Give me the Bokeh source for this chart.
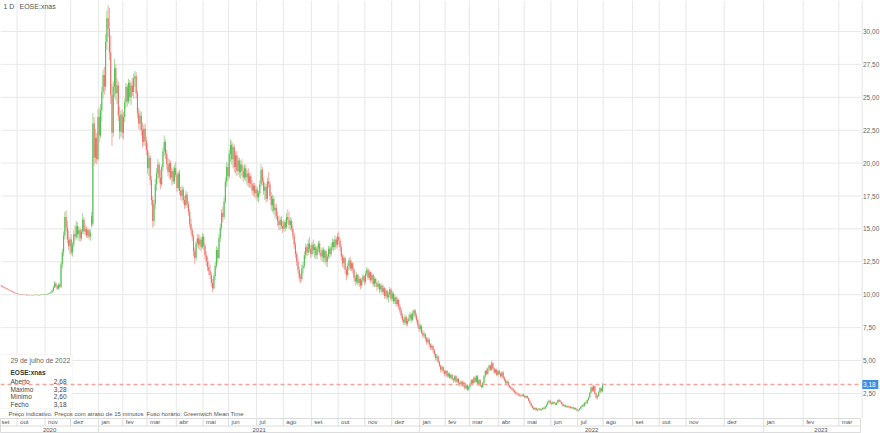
from bokeh.plotting import figure
from bokeh.layouts import column, row
from bokeh.models import Range1d, ColumnDataSource, Span, Label, BoxAnnotation
from bokeh.embed import file_html
from bokeh.resources import INLINE
from bokeh.core.properties import value

# ---------------- data (daily candles, EOSE:xnas, 14 Sep 2020 .. 29 Jul 2022) ----------------
opens = [
 10.70,10.64,10.60,10.55,10.50,10.45,10.40,10.35,10.30,10.25,
 10.21,10.16,10.12,10.09,10.06,10.04,10.02,10.00,9.98,9.99,
 10.00,9.97,9.98,9.96,9.97,9.98,9.97,9.99,10.00,9.98,
 9.97,9.98,10.00,10.01,9.99,10.00,10.02,10.05,10.08,10.12,
 10.18,10.30,10.55,10.85,10.65,10.45,10.75,10.60,12.30,13.20,
 14.5,15.9,15.1,14.2,13.7,14.2,13.2,13.8,14.6,14.4,
 15.2,14.6,14.9,14.3,14.8,15.7,14.8,15.0,14.5,14.9,
 14.4,16.0,15.4,23.0,20.4,21.9,20.3,23.5,22.1,24.0,
 25.4,26.7,25.8,29.2,31.0,30.2,28.4,25.2,22.3,25.8,
 27.2,25.3,25.9,23.6,22.4,23.7,22.3,23.5,24.6,25.8,
 24.7,26.1,25.0,25.9,25.4,26.4,26.6,25.3,23.8,23.0,
 23.6,22.5,21.6,22.6,21.7,21.0,19.6,20.4,18.7,17.2,
 15.6,16.9,18.4,19.2,19.9,18.9,18.4,19.7,20.9,21.6,
 20.7,19.9,19.3,20.0,18.9,19.4,18.6,19.6,19.1,18.1,
 19.2,17.9,17.5,18.0,17.2,16.8,17.6,16.9,16.3,15.4,
 14.9,14.4,13.3,12.8,13.9,14.3,13.8,14.2,13.6,14.4,
 13.7,13.0,12.5,12.1,11.8,11.5,10.9,10.5,11.4,12.2,
 13.4,12.8,14.3,15.1,16.2,15.9,17.1,18.6,19.7,19.0,
 20.7,21.4,20.3,21.2,19.7,20.6,19.4,20.2,19.3,19.9,
 19.4,18.9,19.6,18.9,19.2,18.5,19.0,18.4,17.9,18.3,
 17.7,18.0,17.4,17.7,18.4,19.5,18.6,17.9,18.2,17.3,
 18.6,18.4,17.5,16.8,17.3,16.4,16.6,16.0,15.6,15.3,
 15.7,15.2,15.0,15.5,15.1,15.9,15.7,15.3,15.6,15.0,
 14.5,13.8,13.1,12.5,11.9,11.3,11.2,12.0,12.2,13.0,
 13.6,13.2,13.9,13.5,13.1,13.8,13.4,13.6,13.0,13.5,
 13.9,13.2,12.9,13.4,12.8,13.3,12.5,12.9,13.5,13.1,
 13.6,14.0,13.6,14.2,13.8,14.4,14.1,13.6,12.9,12.4,
 12.8,11.9,11.5,12.2,12.6,12.0,12.4,11.9,11.3,11.0,
 11.5,10.9,11.2,10.7,11.1,11.4,11.0,11.6,11.9,11.3,
 11.7,11.1,11.5,10.8,11.2,10.9,10.6,10.8,10.4,10.7,
 10.2,10.5,9.9,10.3,9.8,10.0,10.4,9.7,10.1,9.5,
 9.8,9.3,9.6,9.1,8.8,8.4,8.1,7.9,8.3,7.8,
 8.0,8.2,8.5,8.1,8.6,8.8,8.4,8.1,7.7,7.4,
 7.6,7.1,6.9,7.0,6.7,6.4,6.6,6.2,6.0,6.1,
 5.8,5.5,5.2,5.3,4.9,4.6,4.3,4.5,4.2,4.0,
 4.2,3.8,4.0,3.7,3.9,3.6,3.5,3.8,3.4,3.6,
 3.3,3.2,3.4,3.1,3.3,2.9,3.1,2.8,3.0,3.2,
 3.5,3.3,3.7,3.4,3.8,3.2,3.5,3.1,3.0,3.3,
 3.8,4.2,4.0,4.4,4.6,4.3,4.8,4.4,4.1,4.3,
 3.9,4.2,4.0,3.8,4.1,3.7,3.5,3.3,3.4,3.1,
 3.0,2.9,2.8,2.7,2.6,2.5,2.45,2.4,2.35,2.3,
 2.4,2.3,2.2,2.3,2.15,1.95,1.75,1.55,1.4,1.3,
 1.4,1.25,1.3,1.35,1.25,1.3,1.4,1.35,1.5,1.65,
 1.85,1.95,1.75,1.7,1.85,1.75,1.65,1.8,2.0,1.9,
 1.85,1.7,1.55,1.6,1.5,1.55,1.45,1.5,1.4,1.45,
 1.35,1.4,1.3,1.2,1.25,1.35,1.5,1.6,1.55,1.8,
 1.75,2.0,2.2,2.55,2.95,2.7,3.05,2.5,2.2,2.3,
 2.6,2.9,2.68,
]
highs = [
 10.75,10.68,10.63,10.58,10.52,10.48,10.42,10.38,10.33,10.28,
 10.23,10.18,10.14,10.11,10.08,10.06,10.04,10.02,10.01,10.02,
 10.01,10.00,9.99,9.99,10.00,9.99,10.01,10.02,10.01,9.99,
 10.00,10.02,10.03,10.02,10.02,10.04,10.08,10.12,10.16,10.25,
 10.40,10.70,11.05,10.95,10.75,10.90,10.85,12.50,13.50,14.80,
 16.3,16.4,15.6,14.9,14.4,14.6,14.0,14.9,15.3,15.6,
 15.5,15.2,15.1,15.0,16.2,15.9,15.3,15.2,15.1,15.0,
 15.0,16.3,23.8,23.5,22.6,22.3,24.1,24.2,24.5,25.8,
 27.1,27.3,29.8,31.6,32.0,31.8,29.7,26.0,26.2,27.9,
 27.5,26.4,26.2,24.3,24.0,24.1,23.9,24.9,26.1,26.0,
 26.4,26.3,26.2,26.5,26.8,27.0,26.9,25.5,24.2,24.0,
 23.9,23.1,22.9,23.0,22.0,21.5,20.8,20.6,19.0,17.5,
 17.2,18.8,19.6,20.3,20.1,19.5,19.9,21.2,22.1,21.8,
 21.0,20.4,20.3,20.2,19.6,19.7,19.9,20.1,19.3,19.4,
 19.5,18.2,18.3,18.2,17.5,17.9,17.8,17.1,16.5,15.8,
 15.1,14.6,13.6,14.1,14.6,14.6,14.5,14.4,14.7,14.6,
 13.9,13.3,12.9,12.6,12.3,11.7,11.2,11.6,12.5,13.7,
 13.6,14.6,15.4,16.5,16.7,17.4,18.9,20.1,20.0,21.0,
 21.8,21.7,21.5,21.4,20.9,20.9,20.5,20.4,20.2,20.3,
 19.8,19.9,19.9,19.5,19.6,19.3,19.2,18.7,18.5,18.5,
 18.3,18.2,17.9,18.7,19.9,19.7,18.9,18.5,18.4,18.9,
 19.3,18.6,17.8,17.6,17.5,16.9,16.9,16.3,16.0,15.9,
 16.0,15.6,15.7,15.7,16.2,16.5,16.3,15.9,15.8,15.3,
 14.7,14.0,13.3,12.8,12.1,11.6,12.3,12.5,13.3,13.9,
 13.8,14.2,14.4,13.8,14.0,14.2,13.9,13.8,13.7,14.1,
 14.1,13.5,13.6,13.6,13.5,13.4,13.1,13.7,13.7,13.9,
 14.3,14.2,14.5,14.4,14.7,14.8,14.3,13.8,13.1,13.0,
 12.9,12.1,12.4,12.8,12.9,12.6,12.5,12.0,11.5,11.7,
 11.6,11.4,11.3,11.3,11.6,11.5,11.8,12.1,12.0,11.9,
 11.8,11.7,11.6,11.4,11.3,11.0,11.1,10.9,10.9,10.8,
 10.7,10.6,10.5,10.4,10.2,10.6,10.5,10.3,10.2,10.0,
 9.9,9.8,9.7,9.3,9.0,8.6,8.3,8.5,8.4,8.2,
 8.5,8.7,8.6,8.8,8.9,8.9,8.6,8.2,7.9,7.8,
 7.7,7.3,7.2,7.1,6.8,6.8,6.7,6.3,6.3,6.2,
 5.9,5.6,5.5,5.4,5.0,4.7,4.6,4.6,4.3,4.3,
 4.3,4.1,4.1,4.0,4.0,3.7,3.9,3.9,3.7,3.7,
 3.4,3.5,3.5,3.4,3.4,3.2,3.2,3.1,3.3,3.6,
 3.6,3.8,3.8,3.9,3.9,3.6,3.6,3.2,3.4,3.9,
 4.3,4.4,4.5,4.7,4.7,5.0,4.9,4.5,4.4,4.4,
 4.3,4.3,4.1,4.2,4.2,3.8,3.6,3.5,3.5,3.2,
 3.1,3.0,2.9,2.8,2.7,2.6,2.55,2.5,2.45,2.45,
 2.5,2.4,2.35,2.35,2.2,2.0,1.8,1.6,1.5,1.45,
 1.45,1.35,1.4,1.4,1.35,1.45,1.5,1.55,1.7,1.9,
 2.05,2.0,1.85,1.9,1.9,1.8,1.85,2.05,2.1,2.0,
 1.9,1.75,1.65,1.65,1.6,1.6,1.55,1.55,1.5,1.5,
 1.45,1.45,1.35,1.3,1.4,1.55,1.65,1.75,1.85,1.95,
 2.05,2.25,2.6,3.05,3.1,3.15,3.1,2.55,2.4,2.7,
 3.0,2.95,3.28,
]
lows = [
 10.60,10.55,10.52,10.46,10.42,10.38,10.32,10.28,10.22,10.18,
 10.13,10.10,10.07,10.04,10.02,10.00,9.98,9.96,9.96,9.97,
 9.95,9.96,9.94,9.95,9.96,9.95,9.96,9.98,9.96,9.95,
 9.95,9.96,9.98,9.97,9.97,9.99,10.00,10.03,10.06,10.10,
 10.15,10.25,10.50,10.55,10.35,10.40,10.50,10.50,12.00,12.90,
 14.2,14.8,13.9,13.4,13.1,13.0,12.9,13.6,14.1,14.2,
 14.3,14.1,14.0,14.1,14.6,14.6,14.5,14.3,14.3,14.2,
 14.1,15.1,15.2,19.8,20.0,19.9,20.1,21.6,21.9,23.2,
 24.9,25.2,25.5,28.6,29.6,27.8,24.5,21.3,22.0,25.0,
 24.8,24.5,23.2,21.8,22.0,21.9,21.8,23.1,24.2,24.3,
 24.5,24.6,24.4,25.1,24.9,25.8,24.9,23.4,22.6,22.5,
 22.1,21.2,21.3,21.3,20.6,19.2,19.0,18.3,16.8,15.1,
 15.2,16.5,17.9,18.8,18.5,18.0,18.2,19.4,20.5,20.3,
 19.5,19.0,18.8,18.7,18.3,18.4,18.4,18.9,17.8,17.9,
 17.6,17.2,17.1,16.9,16.5,16.6,16.6,16.0,15.1,14.6,
 14.1,12.9,12.3,12.6,13.6,13.5,13.4,13.3,13.5,13.4,
 12.7,12.2,11.8,11.5,11.2,10.6,10.2,10.4,11.1,12.0,
 12.4,12.7,14.0,14.9,15.5,15.7,16.9,18.2,18.6,18.8,
 20.1,19.9,19.6,19.3,19.2,19.0,19.1,18.9,18.8,19.0,
 18.6,18.7,18.6,18.3,18.2,18.1,18.1,17.6,17.5,17.4,
 17.3,17.1,17.0,17.5,18.2,18.3,17.6,17.2,17.0,17.1,
 18.1,17.2,16.4,16.3,16.1,15.8,15.7,15.2,14.9,14.9,
 15.0,14.7,14.8,14.8,15.0,15.4,15.0,14.9,14.8,14.2,
 13.5,12.8,12.2,11.6,11.0,10.9,11.0,11.6,12.0,12.7,
 12.9,13.0,13.2,12.8,12.9,13.1,12.8,12.7,12.7,13.2,
 13.0,12.6,12.5,12.5,12.4,12.2,12.1,12.7,12.8,12.9,
 13.4,13.3,13.4,13.5,13.6,13.8,13.3,12.6,12.1,12.0,
 11.6,11.1,11.3,11.9,11.8,11.8,11.6,11.0,10.7,10.8,
 10.7,10.6,10.4,10.5,10.9,10.7,10.8,11.4,11.1,11.1,
 10.9,10.9,10.6,10.6,10.6,10.3,10.4,10.1,10.2,10.0,
 10.0,9.7,9.7,9.6,9.4,9.8,9.5,9.5,9.3,9.3,
 9.1,9.1,8.9,8.6,8.2,7.9,7.7,7.7,7.6,7.6,
 7.9,8.0,7.9,8.0,8.3,8.2,7.9,7.5,7.2,7.2,
 7.0,6.7,6.7,6.5,6.2,6.3,6.0,5.8,5.8,5.6,
 5.3,5.0,5.0,4.8,4.5,4.1,4.1,4.0,3.8,3.9,
 3.7,3.7,3.6,3.6,3.5,3.3,3.4,3.3,3.3,3.2,
 3.0,3.1,3.0,3.0,2.8,2.8,2.7,2.7,2.9,3.1,
 3.2,3.2,3.3,3.3,3.1,3.1,3.0,2.9,2.9,3.2,
 3.7,3.9,3.9,4.2,4.2,4.2,4.3,4.0,4.0,3.8,
 3.8,3.9,3.7,3.7,3.6,3.4,3.2,3.2,3.0,2.9,
 2.8,2.7,2.6,2.5,2.4,2.35,2.3,2.25,2.2,2.25,
 2.25,2.15,2.1,2.1,1.9,1.7,1.5,1.35,1.25,1.2,
 1.2,1.15,1.2,1.2,1.15,1.25,1.3,1.3,1.45,1.6,
 1.8,1.7,1.6,1.65,1.7,1.6,1.6,1.75,1.85,1.8,
 1.65,1.5,1.45,1.45,1.4,1.4,1.35,1.35,1.3,1.3,
 1.25,1.25,1.15,1.1,1.2,1.3,1.45,1.5,1.5,1.7,
 1.7,1.95,2.15,2.5,2.6,2.65,2.4,2.1,2.05,2.25,
 2.55,2.55,2.60,
]
closes = [
 10.65,10.60,10.56,10.50,10.46,10.41,10.36,10.31,10.26,10.21,
 10.16,10.12,10.09,10.06,10.04,10.02,10.00,9.98,9.99,10.00,
 9.97,9.98,9.96,9.97,9.98,9.97,9.99,10.00,9.98,9.97,
 9.98,10.00,10.01,9.99,10.00,10.02,10.05,10.08,10.12,10.18,
 10.30,10.55,10.85,10.65,10.45,10.75,10.60,12.30,13.20,14.50,
 15.9,15.1,14.2,13.7,14.2,13.2,13.8,14.6,14.4,15.2,
 14.6,14.9,14.3,14.8,15.7,14.8,15.0,14.5,14.9,14.4,
 14.7,15.3,23.0,20.4,21.9,20.3,23.5,22.1,24.0,25.4,
 26.7,25.8,29.2,31.0,30.2,28.4,25.2,22.3,25.8,27.2,
 25.3,25.9,23.6,22.4,23.7,22.3,23.5,24.6,25.8,24.7,
 26.1,25.0,25.9,25.4,26.4,26.6,25.3,23.8,23.0,23.6,
 22.5,21.6,22.6,21.7,21.0,19.6,20.4,18.7,17.2,15.6,
 16.9,18.4,19.2,19.9,18.9,18.4,19.7,20.9,21.6,20.7,
 19.9,19.3,20.0,18.9,19.4,18.6,19.6,19.1,18.1,19.2,
 17.9,17.5,18.0,17.2,16.8,17.6,16.9,16.3,15.4,14.9,
 14.4,13.3,12.8,13.9,14.3,13.8,14.2,13.6,14.4,13.7,
 13.0,12.5,12.1,11.8,11.5,10.9,10.5,11.4,12.2,13.4,
 12.8,14.3,15.1,16.2,15.9,17.1,18.6,19.7,19.0,20.7,
 21.4,20.3,21.2,19.7,20.6,19.4,20.2,19.3,19.9,19.4,
 18.9,19.6,18.9,19.2,18.5,19.0,18.4,17.9,18.3,17.7,
 18.0,17.4,17.7,18.4,19.5,18.6,17.9,18.2,17.3,18.6,
 18.4,17.5,16.8,17.3,16.4,16.6,16.0,15.6,15.3,15.7,
 15.2,15.0,15.5,15.1,15.9,15.7,15.3,15.6,15.0,14.5,
 13.8,13.1,12.5,11.9,11.3,11.2,12.0,12.2,13.0,13.6,
 13.2,13.9,13.5,13.1,13.8,13.4,13.6,13.0,13.5,13.9,
 13.2,12.9,13.4,12.8,13.3,12.5,12.9,13.5,13.1,13.6,
 14.0,13.6,14.2,13.8,14.4,14.1,13.6,12.9,12.4,12.8,
 11.9,11.5,12.2,12.6,12.0,12.4,11.9,11.3,11.0,11.5,
 10.9,11.2,10.7,11.1,11.4,11.0,11.6,11.9,11.3,11.7,
 11.1,11.5,10.8,11.2,10.9,10.6,10.8,10.4,10.7,10.2,
 10.5,9.9,10.3,9.8,10.0,10.4,9.7,10.1,9.5,9.8,
 9.3,9.6,9.1,8.8,8.4,8.1,7.9,8.3,7.8,8.0,
 8.2,8.5,8.1,8.6,8.8,8.4,8.1,7.7,7.4,7.6,
 7.1,6.9,7.0,6.7,6.4,6.6,6.2,6.0,6.1,5.8,
 5.5,5.2,5.3,4.9,4.6,4.3,4.5,4.2,4.0,4.2,
 3.8,4.0,3.7,3.9,3.6,3.5,3.8,3.4,3.6,3.3,
 3.2,3.4,3.1,3.3,2.9,3.1,2.8,3.0,3.2,3.5,
 3.3,3.7,3.4,3.8,3.2,3.5,3.1,3.0,3.3,3.8,
 4.2,4.0,4.4,4.6,4.3,4.8,4.4,4.1,4.3,3.9,
 4.2,4.0,3.8,4.1,3.7,3.5,3.3,3.4,3.1,3.0,
 2.9,2.8,2.7,2.6,2.5,2.45,2.4,2.35,2.3,2.4,
 2.3,2.2,2.3,2.15,1.95,1.75,1.55,1.4,1.3,1.4,
 1.25,1.3,1.35,1.25,1.3,1.4,1.35,1.5,1.65,1.85,
 1.95,1.75,1.7,1.85,1.75,1.65,1.8,2.0,1.9,1.85,
 1.7,1.55,1.6,1.5,1.55,1.45,1.5,1.4,1.45,1.35,
 1.4,1.3,1.2,1.25,1.35,1.5,1.6,1.55,1.8,1.75,
 2.0,2.2,2.55,2.95,2.7,3.05,2.5,2.2,2.3,2.6,
 2.9,2.68,3.18,
]

# month grid: trading-day index of each month's first session (future months extrapolated)
month_labels = ["set", "out", "nov", "dez",
                "jan", "fev", "mar", "abr", "mai", "jun", "jul", "ago", "set", "out", "nov", "dez",
                "jan", "fev", "mar", "abr", "mai", "jun", "jul", "ago", "set", "out", "nov", "dez",
                "jan", "fev", "mar"]
month_starts = [-8, 13, 35, 55,
                77, 96, 115, 138, 159, 179, 201, 222, 244, 265, 286, 307,
                329, 349, 368, 391, 411, 432, 453, 473, 496, 517, 538, 568,
                599, 630, 658]
year_labels = ["2020", "2021", "2022", "2023"]
year_starts = [-8, 77, 329, 599]
year_end_last = 689

y_ticks = [2.5, 5.0, 7.5, 10.0, 12.5, 15.0, 17.5, 20.0, 22.5, 25.0, 27.5, 30.0]

symbol = "EOSE:xnas"
interval = "1 D"
last_date_text = "29 de julho de 2022"
info_names = ["Aberto", "Máximo", "Mínimo", "Fecho"]
footer_left = "Preço indicativo. Preços com atraso de 15 minutos"
footer_right = "Fuso horário: Greenwich Mean Time"

# ---------------- layout constants ----------------
FONT = "Liberation Sans"
W_PLOT, W_AX = 861, 19
H_MAIN, H_AX = 418, 15
X0, X1 = -0.5, 675.3
Y0, Y1 = 0.6, 32.35
GRID = "#e8e8e8"
EDGE = "#dcdcdc"

def fmt(v):
    return ("%.2f" % v).replace(".", ",")

n = min(len(opens), len(highs), len(lows), len(closes))
idx = list(range(n))
o, h, l, c = opens[:n], highs[:n], lows[:n], closes[:n]
up = [cc >= oo for oo, cc in zip(o, c)]
src = ColumnDataSource(dict(
    x=idx, h=h, l=l,
    top=[max(a, b) for a, b in zip(o, c)],
    bot=[min(a, b) for a, b in zip(o, c)],
    wick=["#9fda97" if u else "#f4aca6" for u in up],
    body=["#55c155" if u else "#ec6f68" for u in up],
))

xr = Range1d(X0, X1)
yr = Range1d(Y0, Y1)

def bare(fig):
    fig.outline_line_color = None
    fig.background_fill_color = "white"
    fig.border_fill_color = "white"
    fig.grid.visible = False
    return fig

# ---------------- main price panel ----------------
p = bare(figure(width=W_PLOT, height=H_MAIN, x_range=xr, y_range=yr,
                x_axis_location=None, y_axis_location=None,
                output_backend="svg", toolbar_location=None,
                min_border_left=0, min_border_right=0, min_border_top=0, min_border_bottom=0))

for t in y_ticks:
    p.add_layout(Span(location=t, dimension="width", line_color=GRID, line_width=1, level="underlay"))
for m in month_starts:
    if m - 0.5 > X0:
        p.add_layout(Span(location=m - 0.5, dimension="height", line_color=GRID,
                          line_width=1, level="underlay"))

p.segment(x0="x", y0="l", x1="x", y1="h", line_color="wick", line_width=1, source=src)
p.vbar(x="x", width=0.85, top="top", bottom="bot", fill_color="body", line_color=None, source=src)

def lab(x, y, text, size="6.5px", color="#444444", align="left", style="normal"):
    p.add_layout(Label(x=x, y=y, x_units="screen", y_units="data", text=text,
                       text_font=FONT, text_font_size=size, text_color=color,
                       text_baseline="middle", text_align=align, text_font_style=style))

lab(3, 31.9, interval, "7px", "#555555")
lab(19, 31.9, symbol, "7px", "#555555")

# info box
p.add_layout(BoxAnnotation(left=X0, right=56, bottom=1.36, top=5.46,
                           fill_color="white", fill_alpha=0.92,
                           line_color="#e6e6e6", line_width=1))
lab(10, 5.0, last_date_text, "6.8px", "#666666")
lab(10, 4.09, symbol, "6.5px", "#333333", style="bold")
vals = [o[-1], h[-1], l[-1], c[-1]]
rows_y = [3.43, 2.83, 2.25, 1.66]
for name, v, yy in zip(info_names, vals, rows_y):
    lab(10, yy, name)
    lab(66, yy, fmt(v), align="right")
lab(8, 0.96, footer_left, "6px", "#555555")
lab(146, 0.96, footer_right, "6px", "#555555")

# last price dashed line
p.add_layout(Span(location=c[-1], dimension="width", line_color="#f4a39d",
                  line_width=1.5, line_dash="4 3"))

# ---------------- right price scale ----------------
pa = bare(figure(width=W_AX, height=H_MAIN, x_range=Range1d(0, W_AX), y_range=yr,
                 x_axis_location=None, y_axis_location=None,
                 output_backend="svg", toolbar_location=None,
                 min_border_left=0, min_border_right=0, min_border_top=0, min_border_bottom=0))
pa.segment(x0=[0.5], y0=[Y0], x1=[0.5], y1=[Y1], line_color=EDGE, line_width=1)
pa.text(x=[1.5] * len(y_ticks), y=y_ticks, text=[fmt(t) for t in y_ticks],
        text_font=value(FONT), text_font_size="6.5px", text_color="#666666",
        text_baseline="middle", text_align="left")
pa.rect(x=[8.8], y=[c[-1]], width=[16], height=[9], height_units="screen",
        fill_color="#3d8ee0", line_color=None)
pa.text(x=[1.5], y=[c[-1]], text=[fmt(c[-1])],
        text_font=value(FONT), text_font_size="6.5px", text_color="white",
        text_baseline="middle", text_align="left")

# ---------------- time axis (two rows: months / years) ----------------
p2 = bare(figure(width=W_PLOT, height=H_AX, x_range=xr, y_range=Range1d(0, 2),
                 x_axis_location=None, y_axis_location=None,
                 output_backend="svg", toolbar_location=None,
                 min_border_left=0, min_border_right=0, min_border_top=0, min_border_bottom=0))
p2.outline_line_color = EDGE

p2.segment(x0=[X0], y0=[1], x1=[X1], y1=[1], line_color=EDGE, line_width=1)
msep = [m - 0.5 for m in month_starts if m - 0.5 > X0]
p2.segment(x0=msep, y0=[1] * len(msep), x1=msep, y1=[2] * len(msep),
           line_color=EDGE, line_width=1)
ysep = [s - 0.5 for s in year_starts if s - 0.5 > X0]
p2.segment(x0=ysep, y0=[0] * len(ysep), x1=ysep, y1=[1] * len(ysep),
           line_color=EDGE, line_width=1)

mx = [max(m - 0.5, X0) for m in month_starts]
moff = [1 if m - 0.5 <= X0 else 3 for m in month_starts]
p2.text(x=mx, y=[1.5] * len(mx), text=month_labels, x_offset=moff,
        text_font=value(FONT), text_font_size="6px", text_color="#555555",
        text_baseline="middle", text_align="left")
yends = year_starts[1:] + [year_end_last]
ycx = [(max(s - 0.5, X0) + e - 0.5) / 2 for s, e in zip(year_starts, yends)]
p2.text(x=ycx, y=[0.5] * len(ycx), text=year_labels,
        text_font=value(FONT), text_font_size="6px", text_color="#555555",
        text_baseline="middle", text_align="center")

layout = row(column(p, p2, spacing=0), pa, spacing=0)
open("out.html", "w").write(file_html(layout, INLINE))
